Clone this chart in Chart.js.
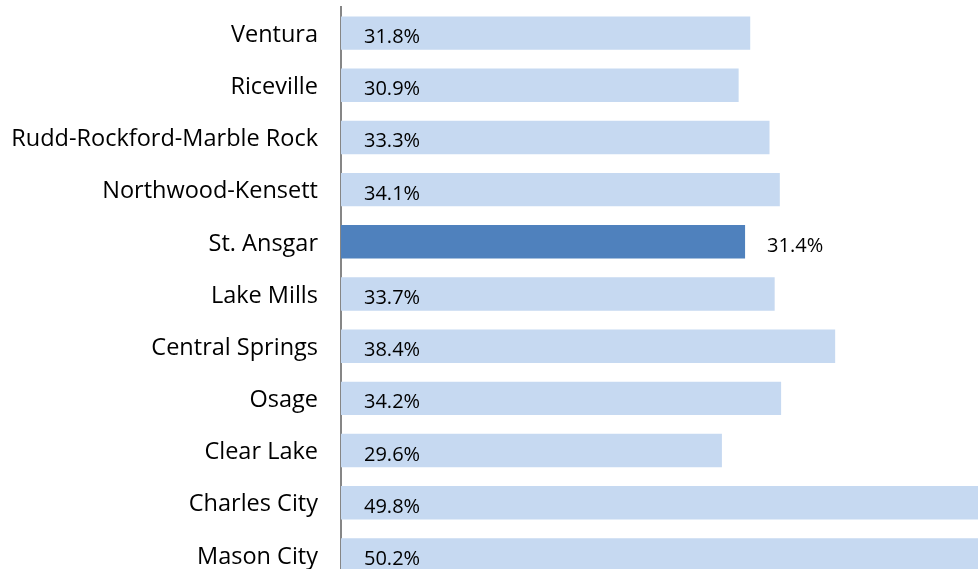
<!DOCTYPE html>
<html>
<head>
<meta charset="utf-8">
<script src="https://cdn.jsdelivr.net/npm/chart.js@4/dist/chart.umd.min.js"></script>
<style>
  html, body { margin: 0; padding: 0; background: #fff; overflow: hidden; }
  #wrap { width: 978px; height: 581px; position: relative; }
</style>
</head>
<body>
<div id="wrap"><canvas id="bar-chart"></canvas></div>
<script>
const categories = [
  "Ventura",
  "Riceville",
  "Rudd-Rockford-Marble Rock",
  "Northwood-Kensett",
  "St. Ansgar",
  "Lake Mills",
  "Central Springs",
  "Osage",
  "Clear Lake",
  "Charles City",
  "Mason City",
];
const values = [31.8, 30.9, 33.3, 34.1, 31.4, 33.7, 38.4, 34.2, 29.6, 49.8, 50.2];
const highlight = "St. Ansgar";

const barChart = document.getElementById("bar-chart");

// value labels: inside the bar near the axis, except the highlighted one which sits past the end
const valueLabels = {
  id: "valueLabels",
  afterDatasetsDraw(chart) {
    const ctx = chart.ctx;
    const meta = chart.getDatasetMeta(0);
    ctx.save();
    ctx.font = '20px "Open Sans"';
    ctx.fillStyle = "#000";
    ctx.textBaseline = "alphabetic";
    meta.data.forEach((bar, i) => {
      const x = categories[i] === highlight ? bar.x + 22 : bar.base + 23;
      ctx.fillText(values[i].toFixed(1) + "%", x, bar.y + 10);
    });
    ctx.restore();
  },
};

new Chart(barChart, {
  type: "bar",
  data: {
    labels: categories,
    datasets: [
      {
        data: values,
        backgroundColor: categories.map((c) => (c === highlight ? "#4F81BD" : "#C6D9F1")),
        categoryPercentage: 1,
        barPercentage: 0.64,
      },
    ],
  },
  options: {
    indexAxis: "y",
    responsive: true,
    maintainAspectRatio: false,
    animation: false,
    layout: { padding: { top: 7, right: 0, bottom: 0, left: 0 } },
    plugins: {
      legend: { display: false },
      tooltip: { enabled: false },
    },
    scales: {
      x: {
        display: false,
        min: 0,
        max: 49.5,
      },
      y: {
        z: 1,
        grid: { display: false },
        border: { display: true, color: "#868686", width: 2 },
        ticks: {
          padding: 15,
          labelOffset: 2,
          color: "#000",
          font: { family: "Open Sans", size: 23.5 },
        },
        afterFit(scale) {
          scale.width = 341;
          scale.paddingTop = 0;
          scale.paddingBottom = 0;
        },
      },
    },
  },
  plugins: [valueLabels],
});
</script>
</body>
</html>
